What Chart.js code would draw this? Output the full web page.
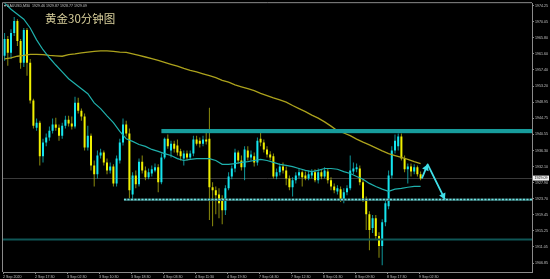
<!DOCTYPE html>
<html>
<head>
<meta charset="utf-8">
<script src="https://cdn.jsdelivr.net/npm/chart.js@4.4.0/dist/chart.umd.min.js"></script>
<style>
  html, body { margin: 0; padding: 0; background: #000; }
</style>
</head>
<body>
<canvas id="goldChart" width="550" height="279"></canvas>
<script>
// 时间轴标签（每10根K线一个）
const timeLabels = ['2 Sep 2020', '2 Sep 17:30', '3 Sep 02:30', '3 Sep 10:30', '3 Sep 18:30',
    '4 Sep 03:30', '4 Sep 11:30', '4 Sep 19:30', '7 Sep 04:30', '7 Sep 12:30',
    '8 Sep 01:30', '8 Sep 09:30', '8 Sep 17:30', '9 Sep 02:30'];

// 价格轴标签
const priceLabels = ['1974.25', '1970.05', '1965.80', '1961.60', '1957.40', '1953.20', '1948.95',
    '1944.75', '1940.55', '1936.30', '1932.10', '1927.90', '1923.70', '1919.45',
    '1915.25', '1911.05', '1906.85'];

// K线 开/高/低/收
const openPrices = [
    1961.1, 1965.5, 1961.9, 1967.1, 1970.2, 1965.0, 1959.3, 1967.9, 1959.3, 1949.4,
    1942.3, 1943.6, 1934.8, 1938.4, 1939.7, 1941.5, 1943.1, 1942.3, 1940.2, 1942.8,
    1944.4, 1943.4, 1942.6, 1948.8, 1946.7, 1945.2, 1937.1, 1940.2, 1932.4, 1930.1,
    1935.0, 1935.8, 1933.2, 1931.1, 1932.1, 1927.7, 1933.7, 1938.4, 1943.1, 1940.8,
    1924.8, 1929.8, 1927.5, 1933.4, 1931.1, 1929.3, 1930.3, 1931.1, 1931.9, 1928.0,
    1934.5, 1939.4, 1936.3, 1938.1, 1937.6, 1936.1, 1934.2, 1935.5, 1934.5, 1935.5,
    1939.2, 1938.9, 1938.1, 1939.2, 1939.4, 1926.7, 1925.9, 1924.8, 1923.8, 1920.7,
    1926.4, 1929.5, 1931.6, 1935.8, 1933.7, 1931.9, 1936.3, 1934.5, 1934.8, 1933.2,
    1939.4, 1938.4, 1936.6, 1935.3, 1934.8, 1929.5, 1930.6, 1932.1, 1931.1, 1929.0,
    1926.7, 1928.5, 1929.8, 1930.6, 1929.8, 1929.0, 1929.8, 1930.6, 1928.5, 1930.6,
    1929.5, 1930.8, 1928.5, 1926.9, 1925.6, 1926.2, 1923.3, 1925.4, 1926.4, 1930.8,
    1931.4, 1931.6, 1928.0, 1923.5, 1919.6, 1916.0, 1918.6, 1913.9, 1911.3, 1917.5,
    1921.7, 1929.8, 1936.3, 1937.4, 1940.0, 1934.2, 1931.4, 1932.1, 1930.8, 1931.9, 1930.1
];
const highPrices = [
    1967.1, 1966.3, 1968.1, 1971.3, 1970.7, 1965.5, 1968.4, 1968.4, 1960.3, 1949.9,
    1944.7, 1944.1, 1939.4, 1940.8, 1942.6, 1944.7, 1944.9, 1943.1, 1943.6, 1945.4,
    1945.4, 1945.2, 1950.4, 1950.1, 1947.3, 1946.0, 1942.8, 1940.8, 1933.7, 1936.3,
    1936.8, 1936.3, 1934.2, 1933.2, 1932.7, 1935.0, 1939.4, 1944.7, 1944.1, 1942.1,
    1930.6, 1931.1, 1934.2, 1935.0, 1932.1, 1931.6, 1932.4, 1932.9, 1932.7, 1935.5,
    1939.7, 1940.5, 1938.9, 1938.9, 1939.2, 1936.8, 1936.3, 1936.3, 1936.3, 1940.2,
    1940.2, 1939.7, 1940.2, 1941.0, 1947.5, 1928.0, 1926.9, 1926.4, 1924.6, 1927.2,
    1930.6, 1932.4, 1936.8, 1936.3, 1935.0, 1937.4, 1937.4, 1936.3, 1935.8, 1939.7,
    1941.0, 1939.2, 1937.4, 1936.1, 1935.5, 1931.6, 1932.9, 1933.2, 1932.1, 1929.8,
    1929.3, 1930.6, 1931.6, 1931.1, 1930.8, 1931.1, 1931.4, 1931.4, 1931.6, 1931.4,
    1931.9, 1931.6, 1929.3, 1927.7, 1927.2, 1926.9, 1926.4, 1927.2, 1935.0, 1933.2,
    1932.9, 1932.4, 1928.8, 1924.3, 1920.4, 1919.4, 1919.4, 1914.9, 1918.3, 1923.3,
    1931.1, 1937.4, 1940.5, 1940.8, 1940.8, 1935.0, 1932.9, 1932.9, 1932.7, 1932.4, 1930.8
];
const lowPrices = [
    1959.8, 1958.5, 1960.3, 1966.3, 1963.7, 1957.7, 1958.2, 1955.9, 1948.6, 1942.1,
    1941.5, 1932.4, 1933.2, 1937.4, 1938.9, 1940.8, 1941.5, 1938.9, 1939.4, 1942.1,
    1942.6, 1941.8, 1942.1, 1946.0, 1944.1, 1936.3, 1936.3, 1931.1, 1926.9, 1929.0,
    1934.2, 1932.4, 1930.1, 1930.3, 1926.9, 1926.9, 1932.9, 1937.6, 1940.0, 1923.8,
    1923.3, 1926.4, 1926.9, 1930.3, 1928.5, 1928.8, 1929.5, 1930.6, 1925.4, 1927.5,
    1934.0, 1936.8, 1934.5, 1935.8, 1935.0, 1933.7, 1932.4, 1933.7, 1934.0, 1934.8,
    1937.6, 1937.1, 1937.4, 1937.9, 1918.1, 1916.5, 1919.6, 1918.6, 1917.0, 1919.4,
    1925.9, 1928.8, 1930.6, 1932.9, 1931.1, 1928.5, 1933.7, 1933.7, 1932.1, 1932.4,
    1937.4, 1935.8, 1934.5, 1933.7, 1929.0, 1928.8, 1929.8, 1930.3, 1927.2, 1925.9,
    1924.3, 1927.7, 1929.0, 1926.9, 1928.5, 1928.5, 1929.0, 1928.0, 1927.7, 1928.8,
    1929.0, 1927.7, 1925.9, 1925.1, 1924.8, 1922.8, 1922.5, 1924.6, 1925.9, 1930.1,
    1930.6, 1927.2, 1922.8, 1915.5, 1910.2, 1914.7, 1912.9, 1908.2, 1906.3, 1916.5,
    1920.9, 1929.0, 1935.5, 1936.3, 1933.7, 1930.6, 1927.7, 1929.5, 1930.1, 1929.5, 1928.5
];
const closePrices = [
    1965.5, 1961.9, 1967.1, 1970.2, 1965.0, 1959.3, 1967.9, 1959.3, 1949.4, 1942.8,
    1943.6, 1934.8, 1938.4, 1939.7, 1941.5, 1943.1, 1942.3, 1940.2, 1942.8, 1944.4,
    1943.4, 1942.6, 1948.8, 1946.7, 1945.2, 1937.1, 1940.2, 1932.4, 1930.1, 1935.0,
    1935.8, 1933.2, 1931.1, 1932.1, 1927.7, 1934.2, 1938.4, 1943.1, 1940.8, 1925.9,
    1929.8, 1927.5, 1933.4, 1931.1, 1929.3, 1930.6, 1931.4, 1931.9, 1928.0, 1934.5,
    1939.4, 1937.4, 1938.1, 1936.8, 1935.8, 1934.8, 1935.5, 1934.5, 1935.5, 1939.2,
    1938.1, 1938.1, 1939.2, 1938.7, 1926.7, 1925.9, 1924.6, 1922.5, 1920.7, 1926.4,
    1929.5, 1931.6, 1935.8, 1933.7, 1931.9, 1936.6, 1934.5, 1935.3, 1933.2, 1938.9,
    1938.4, 1936.6, 1935.3, 1934.5, 1929.5, 1930.6, 1932.1, 1931.1, 1929.0, 1926.7,
    1928.5, 1929.8, 1930.6, 1929.3, 1929.0, 1930.1, 1930.6, 1928.5, 1930.6, 1929.5,
    1931.1, 1928.5, 1926.9, 1925.9, 1926.4, 1923.3, 1925.4, 1926.4, 1931.1, 1931.6,
    1931.9, 1928.0, 1923.5, 1919.6, 1915.5, 1918.6, 1913.9, 1911.3, 1917.5, 1922.5,
    1929.8, 1936.3, 1938.9, 1940.0, 1934.2, 1931.4, 1932.1, 1930.8, 1931.9, 1930.1, 1929.0
];

// 均线（每两根K线取一个点）
const maFast = [
    1974.9, 1973.3, 1972.0, 1970.7, 1968.4, 1965.3, 1962.7, 1960.6, 1958.7, 1956.9,
    1955.1, 1953.8, 1952.5, 1951.2, 1948.8, 1947.3, 1945.4, 1943.6, 1941.3, 1939.4,
    1938.7, 1937.9, 1937.4, 1936.6, 1936.1, 1935.5, 1935.0, 1934.2, 1933.7, 1934.0,
    1934.2, 1934.2, 1934.2, 1933.7, 1932.7, 1932.7, 1932.9, 1933.2, 1933.4, 1933.7,
    1934.0, 1933.7, 1933.2, 1932.7, 1932.4, 1932.1, 1931.6, 1931.1, 1930.8, 1931.1,
    1931.6, 1931.6, 1931.4, 1930.8, 1930.3, 1929.5, 1928.8, 1927.7, 1926.9, 1926.2,
    1925.6, 1926.2, 1926.4, 1926.7, 1926.9, 1926.9
];
const maSlow = [
    1960.3, 1960.6, 1961.0, 1961.2, 1961.5, 1961.5, 1961.4, 1961.2, 1961.1, 1961.0,
    1961.4, 1961.6, 1961.9, 1962.1, 1962.3, 1962.4, 1962.4, 1962.3, 1962.1, 1962.0,
    1961.6, 1961.2, 1960.8, 1960.4, 1959.9, 1959.4, 1958.9, 1958.4, 1957.8, 1957.3,
    1956.9, 1956.4, 1955.9, 1955.4, 1954.7, 1954.2, 1953.5, 1953.0, 1952.5, 1952.0,
    1951.3, 1950.7, 1950.1, 1949.6, 1949.0, 1948.1, 1947.3, 1946.5, 1945.6, 1944.8,
    1943.8, 1942.7, 1941.5, 1940.9, 1940.2, 1939.3, 1938.5, 1937.8, 1937.0, 1936.2,
    1935.5, 1935.0, 1934.5, 1934.0, 1933.4, 1932.9
];

// 画线对象（价格 / K线序号）
const resistanceBand = [1940.85, 1941.95];
const resistanceStart = 49;
const supportLevel = 1923.5;
const supportStart = 37.3;
const lowLevel = 1913.0;
const lastPrice = 1929.09;
const arrowSlots = [130.4, 132.2, 137.6];
const arrowPrices = [1929.0, 1932.7, 1923.5];

const headerText = 'XAUUSD,M30  1929.46 1929.87 1928.77 1929.09';
const titleText = '黄金30分钟图';

// 颜色
const upColor = '#14e4ee';
const downColor = '#f0f000';
const upWick = 'rgba(20,200,205,0.75)';
const downWick = 'rgba(200,200,20,0.7)';
const axisColor = '#8a8a8a';
const textColor = '#c4c4c4';
const smallFont = { family: 'Liberation Sans', size: 3.6 };

const candleIdx = openPrices.map((_, i) => i);
const isUp = candleIdx.map(i => closePrices[i] >= openPrices[i]);

function drawArrowHead(ctx, from, to, len, half) {
    const ang = Math.atan2(to.y - from.y, to.x - from.x);
    ctx.beginPath();
    ctx.moveTo(to.x, to.y);
    ctx.lineTo(to.x - len * Math.cos(ang) + half * Math.sin(ang), to.y - len * Math.sin(ang) - half * Math.cos(ang));
    ctx.lineTo(to.x - len * Math.cos(ang) - half * Math.sin(ang), to.y - len * Math.sin(ang) + half * Math.cos(ang));
    ctx.closePath();
    ctx.fill();
}

// 画线、箭头、标题等
const overlayPlugin = {
    id: 'overlay',
    beforeDatasetsDraw(chart) {
        const { ctx, chartArea: a, scales: { y } } = chart;
        ctx.save();
        const py = Math.round(y.getPixelForValue(lastPrice)) + 0.5;
        ctx.strokeStyle = '#3a3a3a';
        ctx.lineWidth = 1;
        ctx.beginPath();
        ctx.moveTo(a.left, py);
        ctx.lineTo(a.right, py);
        ctx.stroke();
        ctx.restore();
    },
    afterDatasetsDraw(chart) {
        const { ctx, chartArea: a, scales: { x, y } } = chart;
        ctx.save();
        ctx.beginPath();
        ctx.rect(a.left, a.top, a.right - a.left, a.bottom - a.top);
        ctx.clip();

        // 下方水平线
        const ly = y.getPixelForValue(lowLevel);
        ctx.strokeStyle = '#0f5656';
        ctx.lineWidth = 2;
        ctx.beginPath();
        ctx.moveTo(a.left, ly);
        ctx.lineTo(a.right, ly);
        ctx.stroke();

        // 阻力区
        const bx = x.getPixelForValue(resistanceStart);
        const by1 = y.getPixelForValue(resistanceBand[1]);
        const by0 = y.getPixelForValue(resistanceBand[0]);
        ctx.fillStyle = '#179c9c';
        ctx.fillRect(bx, by1, a.right - bx, by0 - by1);

        // 支撑虚线
        const sx = x.getPixelForValue(supportStart);
        const sy = y.getPixelForValue(supportLevel);
        ctx.strokeStyle = '#2e5e5e';
        ctx.lineWidth = 2.5;
        ctx.beginPath();
        ctx.moveTo(sx, sy + 0.3);
        ctx.lineTo(a.right, sy + 0.3);
        ctx.stroke();
        ctx.strokeStyle = '#6fe4e4';
        ctx.lineWidth = 1.5;
        ctx.setLineDash([2, 1.5]);
        ctx.beginPath();
        ctx.moveTo(sx, sy);
        ctx.lineTo(a.right, sy);
        ctx.stroke();
        ctx.setLineDash([]);

        // 走势箭头
        const pts = arrowSlots.map((s, i) => ({ x: x.getPixelForValue(s), y: y.getPixelForValue(arrowPrices[i]) }));
        ctx.strokeStyle = '#3fdfe8';
        ctx.fillStyle = '#3fdfe8';
        ctx.lineWidth = 1.8;
        ctx.lineJoin = 'round';
        ctx.beginPath();
        ctx.moveTo(pts[0].x, pts[0].y);
        ctx.lineTo(pts[1].x, pts[1].y);
        ctx.lineTo(pts[2].x, pts[2].y);
        ctx.stroke();
        drawArrowHead(ctx, pts[0], pts[1], 6, 3.5);
        drawArrowHead(ctx, pts[1], pts[2], 6, 3.5);
        ctx.restore();
    },
    afterDraw(chart) {
        const { ctx, chartArea: a, scales: { y } } = chart;
        ctx.save();
        // 左、上边框
        ctx.strokeStyle = axisColor;
        ctx.lineWidth = 1;
        ctx.beginPath();
        ctx.moveTo(a.left - 0.5, a.bottom);
        ctx.lineTo(a.left - 0.5, a.top - 0.5);
        ctx.lineTo(a.right, a.top - 0.5);
        ctx.stroke();

        // 左上角品种信息
        ctx.fillStyle = textColor;
        ctx.font = '3.6px "Liberation Sans"';
        ctx.textBaseline = 'middle';
        ctx.textAlign = 'left';
        ctx.fillText('\u25BE ' + headerText, a.left + 1, a.top + 3);

        // 标题
        ctx.fillStyle = '#d9d09c';
        ctx.font = '11.5px "Noto Sans CJK SC"';
        ctx.fillText(titleText, a.left + 42, a.top + 15.5);

        // 当前价格标签
        const py = y.getPixelForValue(lastPrice);
        ctx.fillStyle = '#f2f2f2';
        ctx.fillRect(a.right + 1, py - 2.5, 16, 5);
        ctx.fillStyle = '#000';
        ctx.font = '3.6px "Liberation Sans"';
        ctx.fillText(lastPrice.toFixed(2), a.right + 2.5, py);
        ctx.restore();
    }
};

new Chart(document.getElementById('goldChart'), {
    type: 'bar',
    data: {
        datasets: [
            {
                type: 'line',
                data: maFast.map((v, k) => ({ x: 2 * k, y: v })),
                borderColor: '#1fb0ac',
                borderWidth: 1.2,
                pointRadius: 0,
                tension: 0,
                order: 0
            },
            {
                type: 'line',
                data: maSlow.map((v, k) => ({ x: 2 * k, y: v })),
                borderColor: '#aca21c',
                borderWidth: 1.3,
                pointRadius: 0,
                tension: 0,
                order: 0
            },
            {
                data: candleIdx.map(i => ({ x: i, y: [openPrices[i], closePrices[i]] })),
                backgroundColor: isUp.map(u => u ? upColor : downColor),
                barThickness: 2,
                minBarLength: 1,
                grouped: false,
                inflateAmount: 0,
                order: 1
            },
            {
                data: candleIdx.map(i => ({ x: i, y: [lowPrices[i], highPrices[i]] })),
                backgroundColor: isUp.map(u => u ? upWick : downWick),
                barThickness: 1,
                grouped: false,
                inflateAmount: 0,
                order: 2
            }
        ]
    },
    options: {
        responsive: false,
        animation: false,
        devicePixelRatio: 1,
        layout: { padding: { top: 2, left: 3, right: 0, bottom: 0 } },
        plugins: {
            legend: { display: false },
            tooltip: { enabled: false }
        },
        scales: {
            x: {
                type: 'linear',
                offset: false,
                min: -0.5,
                max: -0.5 + 529 / 3.2,
                bounds: 'data',
                border: { color: axisColor },
                grid: { offset: false, drawOnChartArea: false, color: axisColor, tickLength: 2 },
                afterBuildTicks: scale => {
                    scale.ticks = timeLabels.map((_, k) => ({ value: 10 * k - 0.5 }));
                },
                afterFit: scale => { scale.height = 7; },
                ticks: {
                    autoSkip: false,
                    maxRotation: 0,
                    align: 'start',
                    padding: 0.5,
                    color: textColor,
                    font: smallFont,
                    callback: (v, i) => timeLabels[i]
                }
            },
            y: {
                type: 'linear',
                position: 'right',
                min: 1904.5,
                max: 1974.9,
                bounds: 'data',
                border: { color: axisColor },
                grid: { drawOnChartArea: false, color: axisColor, tickLength: 2 },
                afterBuildTicks: scale => {
                    scale.ticks = priceLabels.map(s => ({ value: parseFloat(s) }));
                },
                afterFit: scale => { scale.width = 18; },
                ticks: {
                    autoSkip: false,
                    padding: 1,
                    color: textColor,
                    font: smallFont,
                    callback: (v, i) => priceLabels[i]
                }
            }
        }
    },
    plugins: [overlayPlugin]
});
</script>
</body>
</html>
